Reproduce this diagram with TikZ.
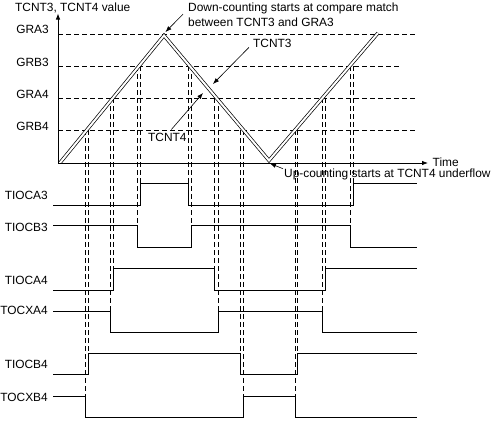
\documentclass[tikz,border=0pt]{standalone}
\usepackage{fontspec}
\setmainfont{Liberation Sans}
\usetikzlibrary{arrows.meta}

\begin{document}
\begin{tikzpicture}[x=1pt, y=-1pt,
        font=\fontsize{11.9}{14}\selectfont,
        >={Latex[length=6pt,width=4.5pt]},
        every node/.style={inner sep=0pt},
        guide/.style={dash pattern=on 5pt off 3pt, line width=0.7pt},
        wave/.style={line width=0.75pt},
        counter/.style={line width=0.7pt, double, double distance=2pt, line join=miter},
        pointer/.style={line width=0.6pt, ->}]
    \useasboundingbox (0,0) rectangle (501,423);
        % Draw compare levels
        \foreach \y/\name/\xend in {34/GRA3/417, 66/GRB3/401, 98/GRA4/417, 130/GRB4/417} {
            \draw[guide] (58,\y) -- (\xend,\y);
            \node[anchor=base east] (\name) at (49,\y) {\name};
        }
        % Draw vertical guides down to the outputs
        \foreach \x/\ya/\yb in {85/130/396, 88/130/353, 110.5/98/311, 113.5/98/268,
                137/66/225.5, 140/66/183, 188/66/183, 191.5/66/225.5,
                214.5/98/268, 218/98/311, 240/130/353, 243.5/130/396,
                295/130/396, 297.5/130/353, 322/98/311, 325.5/98/268,
                350/66/225.5, 353/66/183}
            \draw[guide] (\x,\ya) -- (\x,\yb);
        % Draw the counters
        \begin{scope}
            \clip (58,0) rectangle (501,163);
            \draw[counter] (59,164) -- (164,35.5) coordinate (peak)
                -- (269,160.5) coordinate (valley) -- (378,33);
        \end{scope}
        % Draw axes
        \coordinate (o) at (58,163);
        \draw[line width=0.75pt, ->] (o) -- (58,13.5) coordinate (ytip);
        \draw[line width=0.75pt, ->] (o) -- (428,163) coordinate (xtip);
        \node[anchor=west] (time) at ([xshift=4.5pt,yshift=0.6pt]xtip) {Time};
        \node[anchor=base west] (yname) at (15,11.5) {TCNT3, TCNT4 value};
        % Notes with pointers
        \coordinate (gra3match) at (165.5,32);
        \coordinate (tcnt3pt) at (213,84);
        \coordinate (tcnt4pt) at (203,93);
        \coordinate (underflow) at (270,163.5);
        \node[anchor=base west] (downtxt) at (188,11.5) {Down-counting starts at compare match};
        \node[anchor=base west] (downtxtb) at (188,26) {between TCNT3 and GRA3};
        \node[anchor=base west] (tcnt3) at (253,47) {TCNT3};
        \node[anchor=base west] (tcnt4) at (148,141) {TCNT4};
        \node[anchor=base west] (uptxt) at (284,177.5) {Up-counting starts at TCNT4 underflow};
        \draw[pointer] ([xshift=-5pt]downtxt.south west) -- (gra3match);
        \draw[pointer] ([xshift=-4pt]tcnt3.south west) -- (tcnt3pt);
        \draw[pointer] ([xshift=4pt,yshift=3pt]tcnt4.north) -- (tcnt4pt);
        \draw[pointer] ([xshift=-1pt]uptxt.north west) -- (underflow);
        % Draw output waveforms
        \node[anchor=east] (tioca3) at (48,195.5) {TIOCA3};
        \node[anchor=east] (tiocb3) at (48,227.3) {TIOCB3};
        \node[anchor=east] (tioca4) at (48,280) {TIOCA4};
        \node[anchor=east] (tocxa4) at (48,310.7) {TOCXA4};
        \node[anchor=east] (tiocb4) at (48,364) {TIOCB4};
        \node[anchor=east] (tocxb4) at (48,397.5) {TOCXB4};
        \draw[wave] (53,205.5) -- (140,205.5) -- (140,183) -- (188,183) -- (188,205.5)
            -- (353,205.5) -- (353,183) -- (417,183);
        \draw[wave] (53,225.5) -- (137,225.5) -- (137,247.5) -- (191.5,247.5) -- (191.5,225.5)
            -- (350,225.5) -- (350,247.5) -- (417,247.5);
        \draw[wave] (53,290) -- (113.5,290) -- (113.5,268) -- (214.5,268) -- (214.5,290)
            -- (325.5,290) -- (325.5,268) -- (417,268);
        \draw[wave] (53,311) -- (110.5,311) -- (110.5,332) -- (218,332) -- (218,311)
            -- (322,311) -- (322,332) -- (417,332);
        \draw[wave] (53,374) -- (88,374) -- (88,353) -- (240,353) -- (240,374)
            -- (297.5,374) -- (297.5,353) -- (417,353);
        \draw[wave] (53,396) -- (85,396) -- (85,417) -- (243.5,417) -- (243.5,396)
            -- (295,396) -- (295,417) -- (417,417);
\end{tikzpicture}
\end{document}
